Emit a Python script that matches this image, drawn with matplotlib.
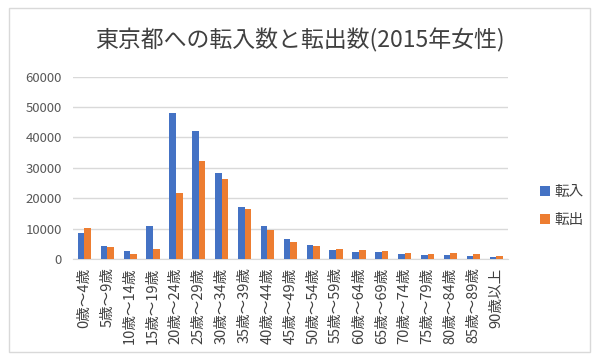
import matplotlib
matplotlib.use("Agg")
import matplotlib.pyplot as plt
from matplotlib.patches import Rectangle
import numpy as np

plt.rcParams['font.family'] = ['Noto Sans CJK JP', 'DejaVu Sans']

categories = ["0歳～4歳", "5歳～9歳", "10歳～14歳", "15歳～19歳", "20歳～24歳",
              "25歳～29歳", "30歳～34歳", "35歳～39歳", "40歳～44歳", "45歳～49歳",
              "50歳～54歳", "55歳～59歳", "60歳～64歳", "65歳～69歳", "70歳～74歳",
              "75歳～79歳", "80歳～84歳", "85歳～89歳", "90歳以上"]
tennyu = [8450, 4170, 2630, 10750, 47900, 42100, 28200, 17100, 10950, 6680,
          4700, 2850, 2200, 2200, 1640, 1320, 1320, 1100, 660]
tenshutsu = [10200, 3850, 1640, 3180, 21600, 32200, 26200, 16300, 9650, 5700,
             4170, 3400, 2850, 2630, 1970, 1640, 1970, 1640, 1100]
yticks = [0, 10000, 20000, 30000, 40000, 50000, 60000]

fig = plt.figure(figsize=(6.0, 3.59), dpi=100)
fig.patches.append(Rectangle((9/600, 1-352/359), 581/600, 344/359,
                             transform=fig.transFigure, fill=False,
                             edgecolor='#d9d9d9', linewidth=1.0))
ax = fig.add_axes([73/600, 1-259/359, 434.6/600, 182.3/359])

x = np.arange(len(categories))
w = 0.29
ax.bar(x - w/2, tennyu, width=w, color='#4472C4', label='転入', zorder=3)
ax.bar(x + w/2, tenshutsu, width=w, color='#ED7D31', label='転出', zorder=3)

ax.set_xlim(-0.5, len(categories) - 0.5)
ax.set_ylim(0, 60000)
ax.set_yticks(yticks)
ax.set_yticklabels([str(v) for v in yticks], fontsize=9.5, color='#595959')
ax.yaxis.grid(True, color='#d9d9d9', linewidth=1.0, zorder=0)
ax.set_xticks(x)
ax.set_xticklabels(categories, rotation=90, fontsize=10.5, color='#404040')
ax.tick_params(axis='both', length=0)
ax.tick_params(axis='y', pad=8)
ax.tick_params(axis='x', pad=6)
for s in ['top', 'right', 'left']:
    ax.spines[s].set_visible(False)
ax.spines['bottom'].set_color('#d9d9d9')
ax.spines['bottom'].set_zorder(1)

fig.text(0.5, 1-40/359, "東京都への転入数と転出数(2015年女性)", ha='center', va='center',
         fontsize=16.5, color='#404040')

fig.legend(loc='center left', bbox_to_anchor=(527/600, 1-206/359), frameon=False,
           fontsize=10.5, handlelength=0.7, handleheight=0.7, handletextpad=0.3,
           labelspacing=1.0, labelcolor='#404040')

fig.savefig('out.png', dpi=100)
